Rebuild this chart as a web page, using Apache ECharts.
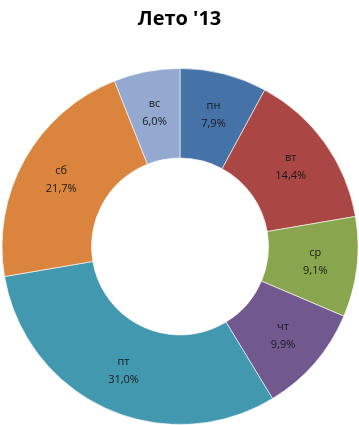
<!DOCTYPE html>
<html><head><meta charset="utf-8">
<script src="https://cdn.jsdelivr.net/npm/echarts@6/dist/echarts.min.js"></script>
<style>html,body{margin:0;padding:0;background:#fff}#c{width:359px;height:425px}</style>
</head><body><div id="c"></div>
<script>
const titleText = "Лето '13";
const categories = ['пн','вт','ср','чт','пт','сб','вс'];
const values = [7.9, 14.4, 9.1, 9.9, 31.0, 21.7, 6.0];
const colors = ['#4572A7','#AA4643','#89A54E','#71588F','#4198AF','#DB843D','#93A9CF'];

const chart = echarts.init(document.getElementById('c'));
chart.setOption({
  animation: false,
  title: {
    text: titleText, left: 'center', top: 4,
    textStyle: {fontFamily: 'Open Sans', fontWeight: 'bold', fontSize: 20, color: '#000'}
  },
  color: colors,
  series: [{
    type: 'pie',
    center: [180, 246.5],
    radius: [88.5, 178],
    startAngle: 90,
    clockwise: true,
    avoidLabelOverlap: false,
    itemStyle: {borderColor: '#ffffff', borderWidth: 0.6},
    label: {
      show: true, position: 'inside',
      fontFamily: 'Open Sans', fontSize: 11, color: '#1a1a1a', lineHeight: 18,
      formatter: p => p.name + '\n' + p.percent.toFixed(1).replace('.', ',') + '%'
    },
    labelLine: {show: false},
    data: categories.map((c, i) => ({name: c, value: values[i]}))
  }]
});
</script></body></html>
